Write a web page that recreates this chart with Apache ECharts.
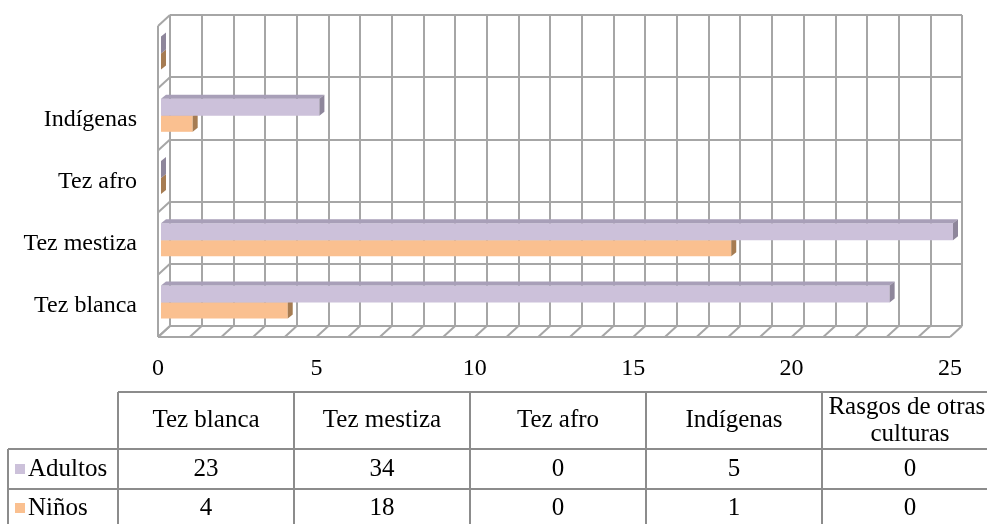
<!DOCTYPE html>
<html>
<head>
<meta charset="utf-8">
<script src="https://cdn.jsdelivr.net/npm/echarts@6/dist/echarts.min.js"></script>
<style>
html, body { margin: 0; padding: 0; background: #fff; }
#chart { width: 987px; height: 524px; }
</style>
</head>
<body>
<div id="chart"></div>
<script>
// data (categories bottom -> top on the bar axis, left -> right in the table)
const categories = ['Tez blanca', 'Tez mestiza', 'Tez afro', 'Indígenas', 'Rasgos de otras culturas'];
const adultos = [23, 34, 0, 5, 0];
const ninos = [4, 18, 0, 1, 0];
const seriesNames = ['Adultos', 'Niños'];
const xMax = 25;
const xLabelStep = 5;

const FONT = 'Liberation Serif';
const GRID_COLOR = '#a6a6a6';
// 3d depth of the box (back wall vs front plane), px
const DEPTH_X = 12, DEPTH_Y = 11;

const barColors = {
  Adultos: { front: '#ccc1da', top: '#a89fb8', side: '#8e869b' },
  'Niños': { front: '#fac090', top: '#d9a070', side: '#a67c52' }
};

const chart = echarts.init(document.getElementById('chart'));

function bar3d(name, slot) {
  return function (params, api) {
    const v = Math.min(api.value(0), xMax);
    const cat = api.value(1);
    const start = api.coord([0, cat]);
    const end = api.coord([v, cat]);
    const x0 = start[0] + 3, x1 = end[0] + 3;
    const mid = start[1] - 3.5;
    const y0 = slot === 0 ? mid - 17 : mid;
    const y1 = slot === 0 ? mid : mid + 16;
    const dx = 5, dy = 4;
    const c = barColors[name];
    return {
      type: 'group',
      children: [
        { type: 'rect', shape: { x: x0, y: y0, width: Math.max(x1 - x0, 0), height: y1 - y0 }, style: { fill: c.front } },
        { type: 'polygon', shape: { points: [[x0, y0], [x1, y0], [x1 + dx, y0 - dy], [x0 + dx, y0 - dy]] }, style: { fill: c.top } },
        { type: 'polygon', shape: { points: [[x1, y0], [x1 + dx, y0 - dy], [x1 + dx, y1 - dy], [x1, y1]] }, style: { fill: c.side } }
      ]
    };
  };
}

// left wall + floor of the 3d box, drawn on the front plane
function frame(params, api) {
  const band = api.size([0, 1])[1];
  const bottomC = api.coord([0, 0]);
  const topC = api.coord([0, categories.length - 1]);
  const left = bottomC[0];
  const bottom = bottomC[1] + band / 2;
  const top = topC[1] - band / 2;
  const right = api.coord([xMax, 0])[0];
  const ls = { stroke: GRID_COLOR, lineWidth: 2 };
  const kids = [
    { type: 'line', shape: { x1: left, y1: top, x2: left, y2: bottom }, style: ls },
    { type: 'line', shape: { x1: left, y1: bottom, x2: right, y2: bottom }, style: ls }
  ];
  for (let k = 0; k <= categories.length; k++) {
    const y = bottom - k * band;
    kids.push({ type: 'line', shape: { x1: left, y1: y, x2: left + DEPTH_X, y2: y - DEPTH_Y }, style: ls });
  }
  for (let i = 0; i <= xMax; i++) {
    const x = api.coord([i, 0])[0];
    kids.push({ type: 'line', shape: { x1: x, y1: bottom, x2: x + DEPTH_X, y2: bottom - DEPTH_Y }, style: ls });
  }
  return { type: 'group', children: kids };
}

// data table under the chart
const tableLeft = 118, colW = 176, keyLeft = 8;
const rowY = [392, 449, 489, 527];
const tableRows = [adultos, ninos];
const tableFont = "25px '" + FONT + "'";
const border = { stroke: '#8c8c8c', lineWidth: 2 };
const tableGraphic = [];
const tableRight = tableLeft + colW * categories.length;
tableGraphic.push({ type: 'line', shape: { x1: tableLeft, y1: rowY[0], x2: tableRight, y2: rowY[0] }, style: border });
for (let r = 1; r < rowY.length; r++) {
  tableGraphic.push({ type: 'line', shape: { x1: keyLeft, y1: rowY[r], x2: tableRight, y2: rowY[r] }, style: border });
}
for (let c = 0; c <= categories.length; c++) {
  const x = tableLeft + c * colW;
  tableGraphic.push({ type: 'line', shape: { x1: x, y1: rowY[0], x2: x, y2: rowY[3] }, style: border });
}
tableGraphic.push({ type: 'line', shape: { x1: keyLeft, y1: rowY[1], x2: keyLeft, y2: rowY[3] }, style: border });
categories.forEach((name, c) => {
  tableGraphic.push({
    type: 'text',
    x: tableLeft + c * colW + colW / 2, y: (rowY[0] + rowY[1]) / 2,
    style: { text: name, width: colW - 8, overflow: 'break', align: 'center', verticalAlign: 'middle', font: tableFont, fill: '#000', lineHeight: 27 }
  });
  tableRows.forEach((vals, r) => {
    tableGraphic.push({
      type: 'text',
      x: tableLeft + c * colW + colW / 2, y: (rowY[r + 1] + rowY[r + 2]) / 2,
      style: { text: String(vals[c]), align: 'center', verticalAlign: 'middle', font: tableFont, fill: '#000' }
    });
  });
});
seriesNames.forEach((name, r) => {
  const yc = (rowY[r + 1] + rowY[r + 2]) / 2;
  tableGraphic.push({ type: 'rect', shape: { x: 15, y: yc - 5, width: 10, height: 10 }, style: { fill: barColors[name].front } });
  tableGraphic.push({
    type: 'text', x: 28, y: yc,
    style: { text: name, align: 'left', verticalAlign: 'middle', font: tableFont, fill: '#000' }
  });
});

chart.setOption({
  animation: false,
  backgroundColor: '#fff',
  grid: [
    // back wall
    { left: 158 + DEPTH_X, right: 37 - DEPTH_X, top: 26 - DEPTH_Y, bottom: 187 + DEPTH_Y },
    // front plane
    { left: 158, right: 37, top: 26, bottom: 187 }
  ],
  xAxis: [
    {
      gridIndex: 0, type: 'value', min: 0, max: xMax, interval: 1,
      axisLine: { show: false }, axisTick: { show: false }, axisLabel: { show: false },
      splitLine: { show: true, lineStyle: { color: GRID_COLOR, width: 2 } }
    },
    {
      gridIndex: 1, type: 'value', min: 0, max: xMax, interval: xLabelStep,
      axisLine: { show: false }, axisTick: { show: false }, splitLine: { show: false },
      axisLabel: { margin: 20, fontFamily: FONT, fontSize: 24, color: '#000' }
    }
  ],
  yAxis: [
    {
      gridIndex: 0, type: 'category', data: categories,
      axisLine: { show: false }, axisTick: { show: false }, axisLabel: { show: false },
      splitLine: { show: true, lineStyle: { color: GRID_COLOR, width: 2 } }
    },
    {
      gridIndex: 1, type: 'category', data: categories,
      axisLine: { show: false }, axisTick: { show: false }, splitLine: { show: false },
      axisLabel: {
        margin: 21, fontFamily: FONT, fontSize: 24, color: '#000',
        interval: (i) => i < categories.length - 1
      }
    }
  ],
  series: [
    {
      type: 'custom', name: 'frame', xAxisIndex: 1, yAxisIndex: 1,
      renderItem: frame, data: [[0, 0]], silent: true, z: 1
    },
    {
      type: 'custom', name: seriesNames[1], xAxisIndex: 1, yAxisIndex: 1,
      renderItem: bar3d(seriesNames[1], 1), z: 2,
      data: ninos.map((v, i) => [v, i]), encode: { x: 0, y: 1 }
    },
    {
      type: 'custom', name: seriesNames[0], xAxisIndex: 1, yAxisIndex: 1,
      renderItem: bar3d(seriesNames[0], 0), z: 3,
      data: adultos.map((v, i) => [v, i]), encode: { x: 0, y: 1 }
    }
  ],
  graphic: tableGraphic
});
</script>
</body>
</html>
